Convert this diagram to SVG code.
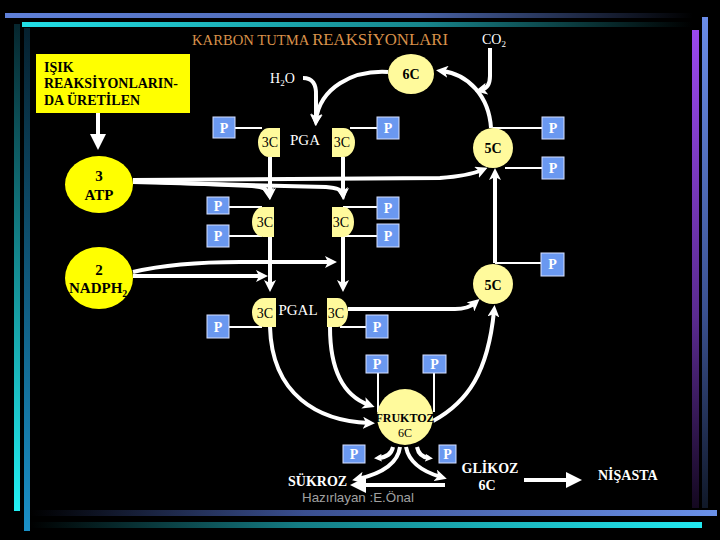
<svg xmlns="http://www.w3.org/2000/svg" width="720" height="540" viewBox="0 0 720 540">
<style>
.serif{font-family:"Liberation Serif","Times New Roman",serif}
.b{font-weight:bold}
.w{fill:#fff}
.k{fill:#000}
.pbox{fill:#6A98F0;stroke:#D6E0FF;stroke-width:1}
.pt{font-family:"Liberation Serif",serif;font-weight:bold;font-size:14px;fill:#fff;text-anchor:middle}
.pale{fill:#FFFA9C}
.yel{fill:#FFFF00}
.thick{fill:none;stroke:#fff;stroke-width:4;stroke-linecap:butt}
.thin{fill:none;stroke:#fff;stroke-width:2}
.mid{text-anchor:middle}
</style>
<defs>
<marker id="ah" viewBox="0 0 12 12" refX="6" refY="6" markerWidth="12" markerHeight="12" markerUnits="userSpaceOnUse" orient="auto"><path d="M0,0 L12,6 L0,12 L3,6 Z" fill="#fff"/></marker>
<marker id="sh" viewBox="0 0 8 8" refX="4" refY="4" markerWidth="8" markerHeight="8" markerUnits="userSpaceOnUse" orient="auto"><path d="M0,0 L8,4 L0,8 L2,4 Z" fill="#fff"/></marker>
<marker id="bh" viewBox="0 0 16 16" refX="6" refY="8" markerWidth="16" markerHeight="16" markerUnits="userSpaceOnUse" orient="auto"><path d="M0,0 L16,8 L0,16 Z" fill="#fff"/></marker>
<linearGradient id="gTopBlue" x1="0" y1="0" x2="1" y2="0"><stop offset="0" stop-color="#5F80D8"/><stop offset="0.6" stop-color="#4A64A8"/><stop offset="1" stop-color="#000"/></linearGradient>
<linearGradient id="gTopCyan" x1="0" y1="0" x2="1" y2="0"><stop offset="0" stop-color="#22E0E8"/><stop offset="0.6" stop-color="#17858C"/><stop offset="1" stop-color="#000"/></linearGradient>
<linearGradient id="gLeft1" x1="0" y1="0" x2="0" y2="1"><stop offset="0" stop-color="#06262E"/><stop offset="1" stop-color="#22F0F4"/></linearGradient>
<linearGradient id="gLeft2" x1="0" y1="0" x2="0" y2="1"><stop offset="0" stop-color="#05202E"/><stop offset="1" stop-color="#1A90C8"/></linearGradient>
<linearGradient id="gBotBlue" x1="0" y1="0" x2="1" y2="0"><stop offset="0" stop-color="#000"/><stop offset="0.4" stop-color="#3A4F90"/><stop offset="1" stop-color="#6A90E8"/></linearGradient>
<linearGradient id="gBotCyan" x1="0" y1="0" x2="1" y2="0"><stop offset="0" stop-color="#000"/><stop offset="0.4" stop-color="#147C84"/><stop offset="1" stop-color="#22E8F0"/></linearGradient>
<linearGradient id="gRight1" x1="0" y1="0" x2="0" y2="1"><stop offset="0" stop-color="#9A48EE"/><stop offset="0.6" stop-color="#5A2A90"/><stop offset="1" stop-color="#140820"/></linearGradient>
<linearGradient id="gRight2" x1="0" y1="0" x2="0" y2="1"><stop offset="0" stop-color="#6A8CE8"/><stop offset="0.6" stop-color="#3A5090"/><stop offset="1" stop-color="#101828"/></linearGradient>
</defs>
<rect x="0" y="0" width="720" height="540" fill="#000"/>
<g id="frame">
<rect x="5" y="13" width="688" height="5" fill="url(#gTopBlue)"/>
<rect x="22" y="22" width="670" height="5" fill="url(#gTopCyan)"/>
<rect x="14" y="24" width="6" height="487" fill="url(#gLeft1)"/>
<rect x="24" y="28" width="6" height="503" fill="url(#gLeft2)"/>
<rect x="30" y="510" width="687" height="6" fill="url(#gBotBlue)"/>
<rect x="30" y="522" width="672" height="6" fill="url(#gBotCyan)"/>
<rect x="692" y="30" width="7" height="478" fill="url(#gRight1)"/>
<rect x="702" y="17" width="6" height="491" fill="url(#gRight2)"/>
</g>
<text id="title" class="serif" x="192" y="45" fill="#D9914A" textLength="256" lengthAdjust="spacingAndGlyphs"><tspan font-size="14">KARBON TUTMA </tspan><tspan font-size="16">REAKSİYONLARI</tspan></text>

<g id="connectors">
<path class="thick" d="M98,113 V140" stroke-width="5" marker-end="url(#bh)"/>
<path class="thick" d="M303,78 Q317,78 316,96 L316,120" marker-end="url(#ah)"/>
<path class="thick" d="M388,72 C352,70 320,88 316,120" marker-end="url(#ah)"/>
<path class="thick" d="M491,128 C489,96 468,74 442,71" marker-end="url(#ah)"/>
<path class="thick" d="M490,48 V76 Q490,88 481,90" marker-end="url(#ah)"/>
<path class="thick" d="M133,180 L440,178 Q468,176 482,170" marker-end="url(#ah)"/>
<path class="thick" d="M133,181 L252,186 Q268,187 269,194" marker-end="url(#ah)"/>
<path class="thick" d="M133,182 L326,187 Q342,188 343,194" marker-end="url(#ah)"/>
<path class="thick" d="M270,157 V194" marker-end="url(#ah)"/>
<path class="thick" d="M343,157 V194" marker-end="url(#ah)"/>
<path class="thick" d="M270,237 V286" marker-end="url(#ah)"/>
<path class="thick" d="M343,237 V286" marker-end="url(#ah)"/>
<path class="thick" d="M133,276 H262" marker-end="url(#ah)"/>
<path class="thick" d="M133,272 Q175,262 240,262 H331" marker-end="url(#ah)"/>
<path class="thick" d="M348,309 H455 Q468,309 475,303" marker-end="url(#ah)"/>
<path class="thick" d="M495,263 V174" marker-end="url(#ah)"/>
<path class="thick" d="M433,421 C468,402 488,372 494,311" marker-end="url(#ah)"/>
<path class="thick" d="M270,327 C272,395 318,421 369,423" marker-end="url(#ah)"/>
<path class="thick" d="M330,327 C330,372 344,396 369,405" marker-end="url(#ah)"/>
<path class="thick" d="M393,447 Q391,457 378,458" stroke-width="3" marker-end="url(#sh)"/>
<path class="thick" d="M417,447 Q419,457 429,458" stroke-width="3" marker-end="url(#sh)"/>
<path class="thick" d="M400,447 Q397,470 358,479" marker-end="url(#ah)"/>
<path class="thick" d="M406,447 Q410,468 441,477" marker-end="url(#ah)"/>
<path class="thick" d="M445,485 H360" stroke-width="5" marker-end="url(#bh)"/>
<path class="thick" d="M524,480 H572" stroke-width="6" marker-end="url(#bh)"/>
<path class="thin" d="M235,128 H262"/>
<path class="thin" d="M350,128 H377"/>
<path class="thin" d="M493,128 H542"/>
<path class="thin" d="M505,168 H542"/>
<path class="thin" d="M229,207 H262"/>
<path class="thin" d="M229,236 H262"/>
<path class="thin" d="M343,207 H377"/>
<path class="thin" d="M343,236 H377"/>
<path class="thin" d="M495,263 H541"/>
<path class="thin" d="M229,327 H262"/>
<path class="thin" d="M340,327 H366"/>
<path class="thin" d="M378,373 V412"/>
<path class="thin" d="M434,373 V412"/>
</g>

<g id="light-box">
<rect x="36" y="54" width="154" height="59" class="yel"/>
<text class="serif b k" font-size="14" x="44" y="72">IŞIK</text>
<text class="serif b k" font-size="14" x="44" y="88" textLength="134" lengthAdjust="spacingAndGlyphs">REAKSİYONLARIN-</text>
<text class="serif b k" font-size="14" x="44" y="105">DA ÜRETİLEN</text>
</g>
<g id="atp">
<ellipse cx="99" cy="184.5" rx="34" ry="28.5" class="yel"/>
<text class="serif b k mid" font-size="15" x="99" y="181">3</text>
<text class="serif b k mid" font-size="15" x="99" y="200">ATP</text>
</g>
<g id="nadph">
<ellipse cx="99" cy="278" rx="34" ry="31" class="yel"/>
<text class="serif b k mid" font-size="15" x="99" y="275">2</text>
<text class="serif b k" font-size="15" x="69" y="293">NADPH<tspan font-size="10" dy="4">2</tspan></text>
</g>
<g id="h2o"><text class="serif w" font-size="14" x="270" y="83">H<tspan font-size="9" dy="3">2</tspan><tspan dy="-3">O</tspan></text></g>
<g id="co2"><text class="serif w" font-size="14" x="482" y="44">CO<tspan font-size="9" dy="3">2</tspan></text></g>
<g id="c6">
<ellipse cx="411" cy="74" rx="23" ry="20" class="pale"/>
<text class="serif b k mid" font-size="14" x="411" y="79">6C</text>
</g>
<g id="c5-top">
<circle cx="493" cy="148" r="20" class="pale"/>
<text class="serif b k mid" font-size="14" x="493" y="153">5C</text>
</g>
<g id="c5-low">
<circle cx="493" cy="284" r="20" class="pale"/>
<text class="serif b k mid" font-size="14" x="493" y="290">5C</text>
</g>
<g id="pga">
<path class="pale" d="M280,128 H269 A11,14.5 0 0 0 269,157 H280 Z"/>
<text class="serif k mid" font-size="14" x="270" y="147">3C</text>
<text class="serif w mid" font-size="15" x="305" y="145">PGA</text>
<path class="pale" d="M332,128 H343.5 A11.5,14.5 0 0 1 343.5,157 H332 Z"/>
<text class="serif k mid" font-size="14" x="342" y="147">3C</text>
</g>
<g id="mid-3c">
<path class="pale" d="M274,207 H263 A11,15 0 0 0 263,237 H274 Z"/>
<text class="serif k mid" font-size="14" x="265" y="227">3C</text>
<path class="pale" d="M332,207 H343 A11,15 0 0 1 343,237 H332 Z"/>
<text class="serif k mid" font-size="14" x="341" y="227">3C</text>
</g>
<g id="pgal">
<path class="pale" d="M276,298 H264 A12,14.5 0 0 0 264,327 H276 Z"/>
<text class="serif k mid" font-size="14" x="265" y="318">3C</text>
<text class="serif w mid" font-size="15" x="298" y="315">PGAL</text>
<path class="pale" d="M327,298 H337.5 A10.5,14.5 0 0 1 337.5,327 H327 Z"/>
<text class="serif k mid" font-size="14" x="336" y="318">3C</text>
</g>
<g id="fruktoz">
<circle cx="405" cy="417" r="28" class="pale"/>
<text class="serif b k mid" font-size="12" x="405" y="422">FRUKTOZ</text>
<text class="serif k mid" font-size="12" x="405" y="437">6C</text>
</g>
<g id="p-boxes">
<rect class="pbox" x="213" y="117" width="22" height="21"/><text class="pt" x="224" y="133">P</text>
<rect class="pbox" x="377" y="117" width="22" height="22"/><text class="pt" x="388" y="133">P</text>
<rect class="pbox" x="542" y="117" width="22" height="22"/><text class="pt" x="553" y="133">P</text>
<rect class="pbox" x="542" y="157" width="22" height="22"/><text class="pt" x="553" y="173">P</text>
<rect class="pbox" x="207" y="197" width="22" height="17"/><text class="pt" x="218" y="211">P</text>
<rect class="pbox" x="207" y="225" width="22" height="22"/><text class="pt" x="218" y="241">P</text>
<rect class="pbox" x="377" y="197" width="22" height="22"/><text class="pt" x="388" y="213">P</text>
<rect class="pbox" x="377" y="224" width="22" height="23"/><text class="pt" x="388" y="241">P</text>
<rect class="pbox" x="541" y="253" width="23" height="23"/><text class="pt" x="552.5" y="269">P</text>
<rect class="pbox" x="207" y="315" width="22" height="23"/><text class="pt" x="218" y="332">P</text>
<rect class="pbox" x="366" y="315" width="22" height="23"/><text class="pt" x="377" y="332">P</text>
<rect class="pbox" x="366" y="355" width="22" height="18"/><text class="pt" x="377" y="369">P</text>
<rect class="pbox" x="423" y="355" width="23" height="18"/><text class="pt" x="434.5" y="369">P</text>
<rect class="pbox" x="343" y="445" width="22" height="18"/><text class="pt" x="354" y="459">P</text>
<rect class="pbox" x="439" y="445" width="17" height="18"/><text class="pt" x="447.5" y="459">P</text>
</g>
<g id="sukroz"><text class="serif b w" font-size="14" x="288" y="486">SÜKROZ</text></g>
<g id="glikoz">
<text class="serif b w mid" font-size="14" x="490" y="473">GLİKOZ</text>
<text class="serif b w mid" font-size="14" x="487" y="490">6C</text>
</g>
<g id="nisasta"><text class="serif b w" font-size="14" x="598" y="480">NİŞASTA</text></g>
<text id="credit" x="302" y="502" font-family="Liberation Sans, Arial, sans-serif" font-size="13" fill="#A0A0A0" textLength="112" lengthAdjust="spacingAndGlyphs">Hazırlayan :E.Önal</text>
</svg>
